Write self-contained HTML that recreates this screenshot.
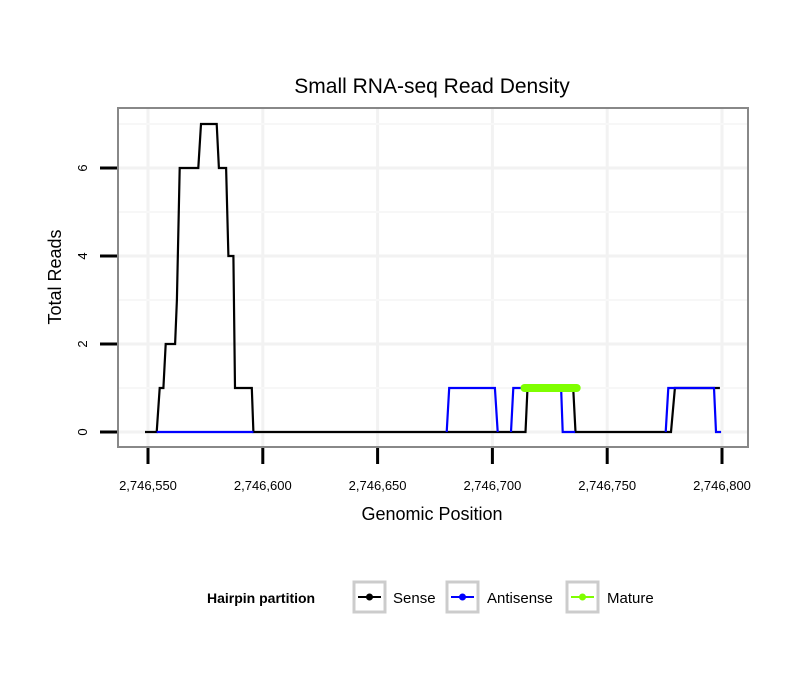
<!DOCTYPE html>
<html><head><meta charset="utf-8"><style>
html,body{margin:0;padding:0;background:#fff;}
svg{display:block;font-family:"Liberation Sans",sans-serif;}
</style></head><body>
<svg id="chart" width="810" height="690" viewBox="0 0 810 690">
<rect x="0" y="0" width="810" height="690" fill="#fff"/>
<text x="432" y="93" text-anchor="middle" font-size="21" fill="#000">Small RNA-seq Read Density</text>
<g id="grid"></g>
<g id="series"></g>
<rect x="118" y="108" width="630" height="339" fill="none" stroke="#888" stroke-width="2"/>
<g id="axes"></g>
<text x="432" y="520" text-anchor="middle" font-size="18">Genomic Position</text>
<text transform="translate(61,277) rotate(-90)" text-anchor="middle" font-size="18">Total Reads</text>
<g>
<text x="207" y="603" font-size="14" font-weight="bold">Hairpin partition</text>
<g>
<rect x="354" y="582" width="31" height="30" fill="#fff" stroke="#ccc" stroke-width="3"/>
<line x1="358" y1="597" x2="381" y2="597" stroke="#000" stroke-width="2"/><circle cx="369.5" cy="597" r="3.5" fill="#000"/>
<text x="393" y="603" font-size="15">Sense</text></g>
<g>
<rect x="447" y="582" width="31" height="30" fill="#fff" stroke="#ccc" stroke-width="3"/>
<line x1="451" y1="597" x2="474" y2="597" stroke="#00f" stroke-width="2"/><circle cx="462.5" cy="597" r="3.5" fill="#00f"/>
<text x="487" y="603" font-size="15">Antisense</text></g>
<g>
<rect x="567" y="582" width="31" height="30" fill="#fff" stroke="#ccc" stroke-width="3"/>
<line x1="571" y1="597" x2="594" y2="597" stroke="#7fff00" stroke-width="2"/><circle cx="582.5" cy="597" r="3.5" fill="#7fff00"/>
<text x="607" y="603" font-size="15">Mature</text></g>
</g>
</svg>
<script>
const xTicks=[2746550,2746600,2746650,2746700,2746750,2746800];
const yTicks=[0,2,4,6];
const senseX=[548.7,553.8,555.1,556.7,557.7,561.8,562.6,563.8,571.9,573.1,579.9,580.9,584.0,585.0,587.2,587.9,595.2,595.9,714.4,715.3,735.2,736.2,777.8,779.5,799.1];
const senseY=[0,0,1,1,2,2,3,6,6,7,7,6,6,4,4,1,1,0,0,1,1,0,0,1,1];
const antiX=[553.8,595.9,null,680.1,681.2,701.1,702.3,null,708.1,709.1,729.9,730.6,736,null,775.5,776.6,796.5,797.4,799.6];
const antiY=[0,0,null,0,1,1,0,null,0,1,1,0,0,null,0,1,1,0,0];
const matureX=[714,736.7];
const matureY=[1,1];
const NS="http://www.w3.org/2000/svg";
function sx(v){return 148+(v-550)*2.296;}
function sxa(v){return 148+(v-2746550)*2.296;}
function sy(v){return 432-v*44;}
function mk(tag,attrs,parent){const e=document.createElementNS(NS,tag);for(const k in attrs)e.setAttribute(k,attrs[k]);parent.appendChild(e);return e;}
const grid=document.getElementById('grid'),axes=document.getElementById('axes'),series=document.getElementById('series');
for(let i=0;i<xTicks.length;i++){
  const l=mk('line',{x1:sxa(xTicks[i]),x2:sxa(xTicks[i]),y1:109,y2:446,stroke:'#f2f2f2','stroke-width':3},grid);
  
  
}
for(let v=0;v<=7;v++){
  const l=mk('line',{x1:119,x2:747,y1:sy(v),y2:sy(v),stroke:(v%2===0?'#f2f2f2':'#f7f7f7'),'stroke-width':(v%2===0?3:2)},grid);
  
  
}
xTicks.forEach(t=>{
  const x=sxa(t);
  const l=mk('line',{x1:x,x2:x,y1:448,y2:464,stroke:'#000','stroke-width':3},axes);
  
  
  const tx=mk('text',{x:x,y:490,'text-anchor':'middle','font-size':13},axes);
  tx.textContent=t.toLocaleString('en-US');
  
  
});
yTicks.forEach(t=>{
  const y=sy(t);
  const l=mk('line',{x1:100,x2:117,y1:y,y2:y,stroke:'#000','stroke-width':3},axes);
  
  
  const tx=mk('text',{transform:'translate(87,'+y+') rotate(-90)','text-anchor':'middle','font-size':13},axes);
  tx.textContent=t;
  
  
});
function pathD(xs,ys){let d='',pen=false;for(let i=0;i<xs.length;i++){if(xs[i]===null){pen=false;continue;}d+=(pen?'L':'M')+sx(xs[i]).toFixed(1)+' '+sy(ys[i]).toFixed(1)+' ';pen=true;}return d;}
const ps=mk('path',{d:pathD(senseX,senseY),fill:'none',stroke:'#000','stroke-width':2.2},series);


const pa=mk('path',{d:pathD(antiX,antiY),fill:'none',stroke:'#00f','stroke-width':2.2},series);


const pm=mk('path',{d:pathD(matureX,matureY),fill:'none',stroke:'#7fff00','stroke-width':8,'stroke-linecap':'round'},series);


</script>
</body></html>
